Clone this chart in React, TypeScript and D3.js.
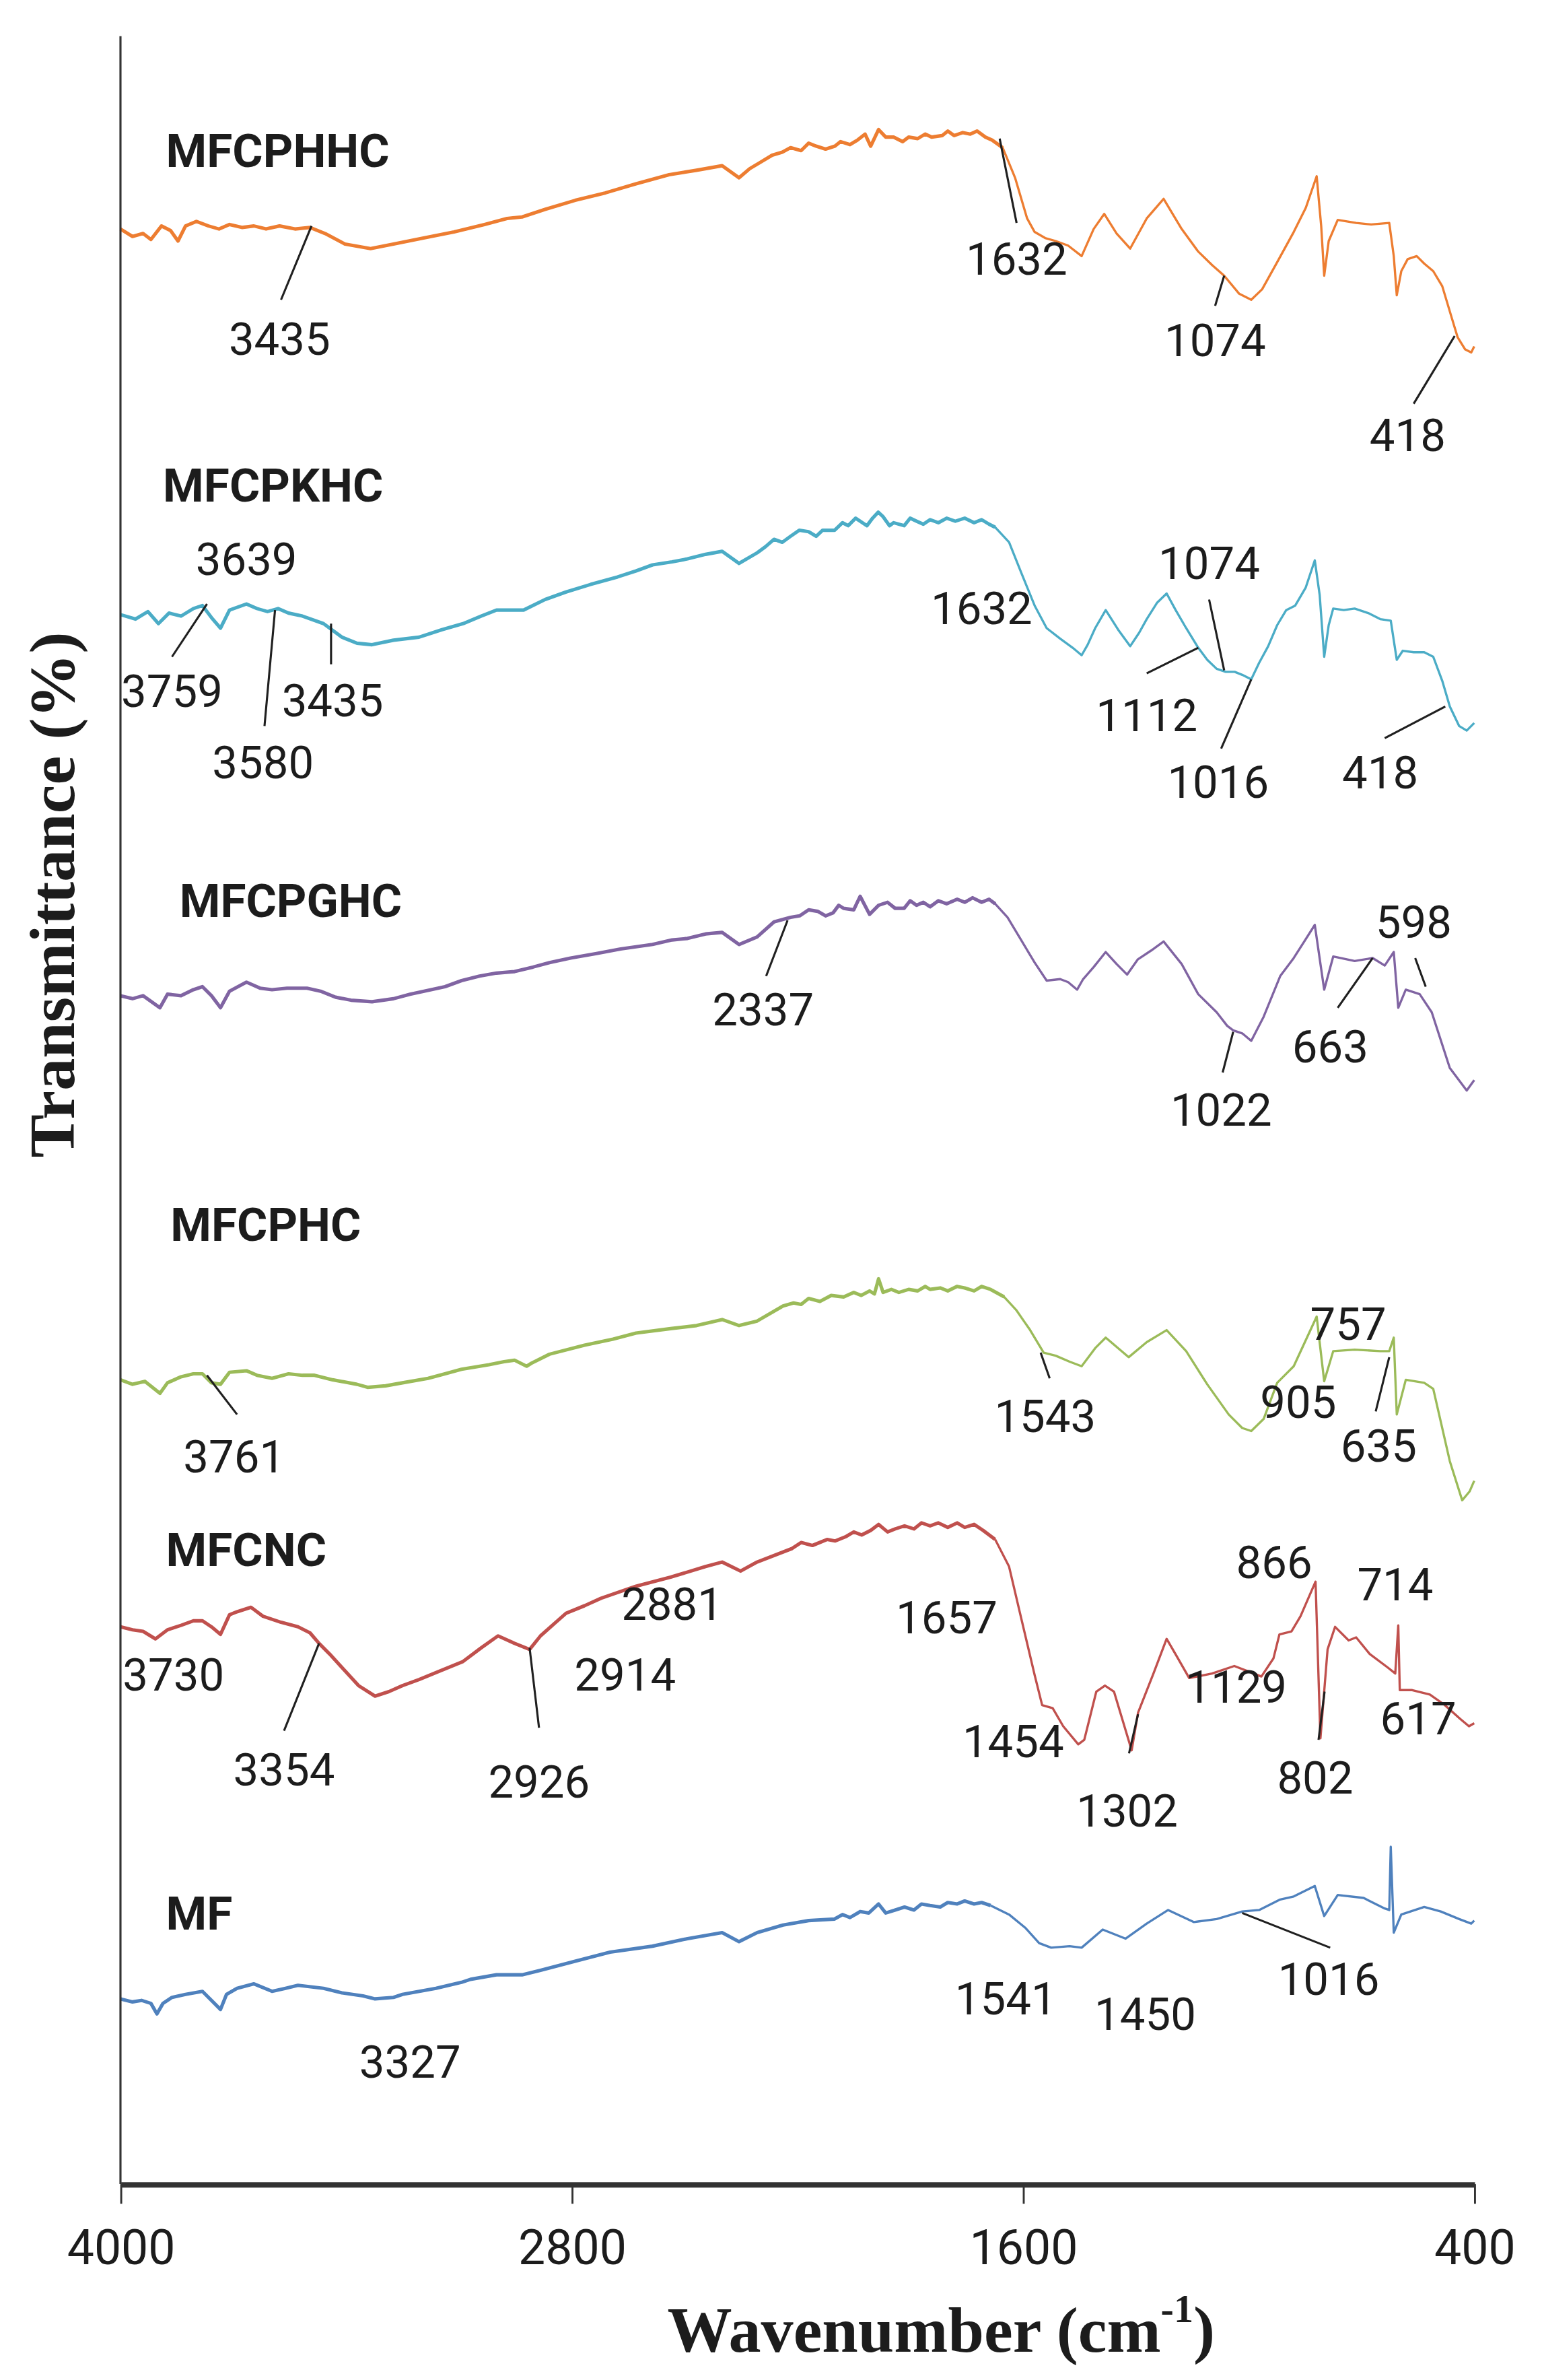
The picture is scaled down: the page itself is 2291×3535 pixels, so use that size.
import { useEffect, useRef } from 'react';
import * as d3 from 'd3';

type Pt = [number, number];

// spectra: [wavenumber cm-1, transmittance (stacked, arbitrary %)]
const MFCPHHC: Pt[] = [
  [4000, 129.8], [3968, 129.3], [3940, 129.5], [3919, 129.1], [3891, 130], [3867, 129.7], [3847, 129],
  [3827, 130], [3798, 130.3], [3766, 130], [3738, 129.8], [3710, 130.1], [3677, 129.9], [3645, 130],
  [3613, 129.8], [3577, 130], [3536, 129.8], [3496, 129.9], [3456, 129.5], [3403, 128.8], [3335, 128.5],
  [3274, 128.8], [3194, 129.2], [3113, 129.6], [3032, 130.1], [2972, 130.5], [2932, 130.6], [2871, 131.1],
  [2791, 131.7], [2710, 132.2], [2629, 132.8], [2541, 133.4], [2468, 133.7], [2400, 134], [2355, 133.2],
  [2327, 133.8], [2300, 134.2], [2267, 134.7], [2240, 134.9], [2218, 135.2], [2190, 135], [2170, 135.5],
  [2150, 135.3], [2125, 135.1], [2100, 135.3], [2085, 135.6], [2060, 135.4], [2040, 135.7], [2020, 136.1],
  [2005, 135.3], [1984, 136.4], [1965, 135.9], [1944, 135.9], [1920, 135.6], [1904, 135.9], [1880, 135.8],
  [1860, 136.1], [1843, 135.9], [1815, 136], [1800, 136.3], [1783, 136], [1760, 136.2], [1740, 136.1],
  [1722, 136.3], [1700, 135.9], [1682, 135.7], [1654, 135.2], [1621, 133.2], [1589, 130.5], [1569, 129.6],
  [1541, 129.2], [1513, 129], [1480, 128.7], [1444, 128], [1412, 129.8], [1384, 130.8], [1351, 129.5],
  [1315, 128.5], [1271, 130.5], [1226, 131.8], [1178, 129.8], [1134, 128.3], [1097, 127.4], [1065, 126.7],
  [1025, 125.5], [993, 125.1], [964, 125.8], [924, 127.6], [880, 129.6], [848, 131.2], [819, 133.3],
  [807, 130], [799, 126.7], [787, 129], [763, 130.4], [714, 130.2], [674, 130.1], [626, 130.2], [614, 128],
  [606, 125.4], [594, 127], [577, 127.8], [553, 128], [533, 127.5], [509, 127], [485, 126], [461, 124],
  [444, 122.6], [424, 121.8], [408, 121.6], [400, 122],
];

const MFCPKHC: Pt[] = [
  [4000, 104.2], [3960, 103.9], [3927, 104.4], [3899, 103.6], [3871, 104.3], [3839, 104.1], [3806, 104.6],
  [3782, 104.8], [3758, 104], [3734, 103.3], [3710, 104.5], [3665, 104.9], [3637, 104.6], [3609, 104.4],
  [3581, 104.6], [3553, 104.3], [3516, 104.1], [3460, 103.6], [3411, 102.7], [3371, 102.3], [3331, 102.2],
  [3274, 102.5], [3206, 102.7], [3145, 103.2], [3089, 103.6], [3041, 104.1], [3000, 104.5], [2928, 104.5],
  [2871, 105.2], [2815, 105.7], [2750, 106.2], [2678, 106.7], [2629, 107.1], [2585, 107.5], [2533, 107.7],
  [2492, 107.9], [2444, 108.2], [2400, 108.4], [2355, 107.6], [2307, 108.3], [2285, 108.7], [2262, 109.2],
  [2240, 109], [2218, 109.4], [2195, 109.8], [2170, 109.7], [2150, 109.4], [2133, 109.8], [2101, 109.8],
  [2080, 110.3], [2065, 110.1], [2045, 110.6], [2033, 110.4], [2015, 110.1], [2000, 110.6], [1985, 111],
  [1972, 110.7], [1955, 110.1], [1944, 110.3], [1916, 110.1], [1900, 110.6], [1883, 110.4], [1865, 110.2],
  [1847, 110.5], [1825, 110.3], [1803, 110.6], [1780, 110.4], [1755, 110.6], [1730, 110.3], [1710, 110.5],
  [1690, 110.2], [1674, 110], [1637, 109], [1605, 107], [1569, 104.8], [1537, 103.3], [1501, 102.6],
  [1468, 102], [1444, 101.5], [1428, 102.2], [1408, 103.3], [1380, 104.5], [1347, 103.2], [1315, 102.1],
  [1291, 103], [1271, 103.9], [1243, 105], [1218, 105.6], [1194, 104.5], [1166, 103.3], [1134, 102],
  [1110, 101.2], [1085, 100.6], [1061, 100.4], [1037, 100.4], [1017, 100.2], [993, 99.9], [972, 101],
  [948, 102.1], [924, 103.5], [900, 104.5], [876, 104.8], [848, 106], [824, 107.8], [811, 105.5],
  [799, 101.4], [787, 103.5], [775, 104.6], [747, 104.5], [718, 104.6], [682, 104.3], [650, 103.9],
  [622, 103.8], [614, 102.5], [606, 101.2], [590, 101.8], [561, 101.7], [533, 101.7], [509, 101.4],
  [485, 99.8], [465, 98.1], [440, 96.8], [420, 96.5], [400, 97],
];

const MFCPGHC: Pt[] = [
  [4000, 78.9], [3968, 78.7], [3940, 78.9], [3895, 78.1], [3875, 79], [3839, 78.9], [3806, 79.3],
  [3782, 79.5], [3758, 78.9], [3734, 78.1], [3710, 79.2], [3665, 79.8], [3629, 79.4], [3597, 79.3],
  [3557, 79.4], [3504, 79.4], [3468, 79.2], [3428, 78.8], [3387, 78.6], [3331, 78.5], [3274, 78.7],
  [3230, 79], [3174, 79.3], [3137, 79.5], [3093, 79.9], [3045, 80.2], [3000, 80.4], [2952, 80.5],
  [2903, 80.8], [2859, 81.1], [2803, 81.4], [2734, 81.7], [2670, 82], [2585, 82.3], [2533, 82.6],
  [2492, 82.7], [2444, 83], [2400, 83.1], [2355, 82.3], [2307, 82.8], [2262, 83.8], [2218, 84.1],
  [2194, 84.2], [2170, 84.6], [2146, 84.5], [2125, 84.2], [2105, 84.4], [2090, 84.9], [2077, 84.7],
  [2050, 84.6], [2033, 85.5], [2008, 84.3], [1984, 84.9], [1960, 85.1], [1940, 84.7], [1916, 84.7],
  [1900, 85.2], [1883, 84.9], [1865, 85.1], [1847, 84.8], [1825, 85.2], [1803, 85], [1775, 85.3],
  [1755, 85.1], [1734, 85.4], [1710, 85.1], [1690, 85.3], [1674, 85], [1641, 84.1], [1605, 82.6],
  [1569, 81.1], [1537, 79.9], [1501, 80], [1480, 79.8], [1456, 79.3], [1440, 80], [1412, 80.8],
  [1380, 81.8], [1351, 81], [1323, 80.3], [1295, 81.3], [1259, 81.9], [1226, 82.5], [1178, 81],
  [1134, 79], [1085, 77.8], [1057, 76.9], [1041, 76.6], [1017, 76.4], [993, 75.9], [960, 77.5],
  [916, 80.2], [880, 81.4], [852, 82.5], [824, 83.6], [799, 79.3], [775, 81.5], [718, 81.2], [670, 81.4],
  [638, 80.9], [614, 81.8], [602, 78.1], [582, 79.3], [545, 79], [513, 77.8], [465, 74.1], [420, 72.6],
  [400, 73.3],
];

const MFCPHC: Pt[] = [
  [4000, 53.4], [3968, 53.1], [3935, 53.3], [3895, 52.5], [3875, 53.2], [3839, 53.6], [3806, 53.8],
  [3782, 53.8], [3758, 53.2], [3734, 53.1], [3710, 53.9], [3665, 54], [3637, 53.7], [3597, 53.5],
  [3553, 53.8], [3516, 53.7], [3484, 53.7], [3436, 53.4], [3371, 53.1], [3343, 52.9], [3295, 53],
  [3250, 53.2], [3182, 53.5], [3137, 53.8], [3093, 54.1], [3020, 54.4], [2980, 54.6], [2952, 54.7],
  [2920, 54.3], [2907, 54.5], [2859, 55.1], [2766, 55.7], [2690, 56.1], [2629, 56.5], [2537, 56.8],
  [2468, 57], [2400, 57.4], [2355, 57], [2307, 57.3], [2238, 58.3], [2210, 58.5], [2190, 58.4],
  [2170, 58.8], [2140, 58.6], [2110, 59], [2077, 58.9], [2050, 59.2], [2030, 59], [2008, 59.3],
  [1995, 59.1], [1984, 60.1], [1972, 59.2], [1950, 59.4], [1930, 59.2], [1904, 59.4], [1880, 59.3],
  [1860, 59.6], [1847, 59.4], [1820, 59.5], [1800, 59.3], [1775, 59.6], [1755, 59.5], [1730, 59.3],
  [1710, 59.6], [1686, 59.4], [1650, 58.9], [1617, 58], [1581, 56.7], [1545, 55.2], [1513, 55],
  [1476, 54.6], [1444, 54.3], [1408, 55.5], [1380, 56.2], [1319, 54.9], [1271, 55.9], [1218, 56.7],
  [1166, 55.3], [1110, 53.1], [1053, 51.1], [1017, 50.2], [993, 50], [960, 50.8], [924, 53.2], [880, 54.3],
  [819, 57.6], [799, 53.3], [775, 55.3], [718, 55.4], [650, 55.3], [626, 55.3], [614, 56.2], [606, 51.1],
  [582, 53.4], [533, 53.2], [509, 52.8], [465, 48], [432, 45.4], [412, 46], [400, 46.7],
];

const MFCNC: Pt[] = [
  [4000, 37], [3968, 36.8], [3940, 36.7], [3907, 36.2], [3875, 36.8], [3839, 37.1], [3806, 37.4],
  [3782, 37.4], [3758, 37], [3734, 36.5], [3710, 37.8], [3690, 38], [3653, 38.3], [3621, 37.7],
  [3573, 37.3], [3528, 37], [3496, 36.6], [3472, 35.9], [3444, 35.2], [3411, 34.3], [3367, 33.1],
  [3323, 32.4], [3286, 32.7], [3250, 33.1], [3206, 33.5], [3157, 34], [3089, 34.7], [3041, 35.6],
  [2996, 36.4], [2952, 35.9], [2912, 35.5], [2883, 36.4], [2847, 37.2], [2815, 37.9], [2766, 38.4],
  [2722, 38.9], [2629, 39.7], [2537, 40.3], [2444, 41], [2400, 41.3], [2351, 40.7], [2307, 41.3],
  [2214, 42.2], [2190, 42.6], [2160, 42.4], [2121, 42.8], [2100, 42.7], [2070, 43], [2050, 43.3],
  [2029, 43.1], [2005, 43.4], [1984, 43.8], [1960, 43.3], [1940, 43.5], [1915, 43.7], [1890, 43.5],
  [1870, 43.9], [1847, 43.7], [1825, 43.9], [1800, 43.6], [1775, 43.9], [1755, 43.6], [1730, 43.8],
  [1706, 43.4], [1674, 42.8], [1637, 41], [1605, 37.6], [1569, 33.8], [1549, 31.8], [1521, 31.6],
  [1493, 30.4], [1453, 29.2], [1437, 29.5], [1405, 32.7], [1382, 33.1], [1358, 32.7], [1311, 28.8],
  [1294, 31.3], [1253, 33.9], [1218, 36.2], [1190, 35], [1158, 33.6], [1097, 33.9], [1038, 34.4],
  [997, 34], [966, 33.7], [934, 34.9], [918, 36.5], [886, 36.7], [862, 37.7], [822, 40], [809, 29.6],
  [790, 35.5], [770, 37], [734, 36.1], [714, 36.3], [678, 35.2], [630, 34.3], [610, 33.9], [602, 37.1],
  [598, 32.8], [565, 32.8], [518, 32.5], [478, 31.8], [438, 30.9], [414, 30.4], [400, 30.6],
];

const MF: Pt[] = [
  [4000, 12.3], [3968, 12.1], [3944, 12.2], [3919, 12], [3903, 11.3], [3887, 12], [3863, 12.4],
  [3827, 12.6], [3782, 12.8], [3734, 11.6], [3718, 12.6], [3690, 13], [3645, 13.3], [3597, 12.8],
  [3561, 13], [3528, 13.2], [3460, 13], [3411, 12.7], [3355, 12.5], [3323, 12.3], [3274, 12.4],
  [3250, 12.6], [3161, 13], [3093, 13.4], [3069, 13.6], [3000, 13.9], [2932, 13.9], [2883, 14.2],
  [2791, 14.8], [2698, 15.4], [2585, 15.8], [2492, 16.3], [2400, 16.7], [2355, 16.1], [2307, 16.7],
  [2238, 17.2], [2170, 17.5], [2101, 17.6], [2080, 17.9], [2060, 17.7], [2033, 18.1], [2010, 18],
  [1984, 18.6], [1965, 18], [1940, 18.2], [1915, 18.4], [1890, 18.2], [1870, 18.6], [1847, 18.5],
  [1820, 18.4], [1800, 18.7], [1775, 18.6], [1755, 18.8], [1730, 18.6], [1710, 18.7], [1686, 18.5],
  [1637, 17.9], [1593, 17], [1557, 16], [1525, 15.7], [1476, 15.8], [1444, 15.7], [1388, 16.9],
  [1327, 16.3], [1271, 17.3], [1214, 18.2], [1146, 17.4], [1085, 17.6], [1017, 18.1], [972, 18.2],
  [916, 18.9], [880, 19.1], [824, 19.8], [799, 17.8], [763, 19.2], [694, 19], [638, 18.3], [626, 18.2],
  [622, 22.4], [614, 16.7], [594, 17.9], [533, 18.4], [489, 18.1], [440, 17.6], [408, 17.3], [400, 17.5],
];

const SERIES_NAMES = ['MFCPHHC', 'MFCPKHC', 'MFCPGHC', 'MFCPHC', 'MFCNC', 'MF'];
const SERIES_DATA = [MFCPHHC, MFCPKHC, MFCPGHC, MFCPHC, MFCNC, MF];
const SERIES_COLORS = ['#ED7D31', '#4BACC6', '#8064A2', '#9BBB59', '#C0504D', '#4F81BD'];
// where each series name sits: [wavenumber, transmittance]
const NAME_AT: Pt[] = [[3879, 135], [3887, 112.8], [3843, 85.2], [3867, 63.7], [3879, 42.1], [3879, 18]];

const X_TICKS = [4000, 2800, 1600, 400];

// peak labels: [text, wn, T, leader from wn, T, to wn, T]
type Peak = [string, number, number, number?, number?, number?, number?];
const PEAKS: Peak[] = [
  ['3435', 3577, 122.5, 3492, 130, 3573, 125.1],
  ['1632', 1617, 127.8, 1662, 135.8, 1617, 130.2],
  ['1074', 1089, 122.4, 1065, 126.7, 1089, 124.7],
  ['418', 577, 116.1, 452, 122.7, 561, 118.2],

  ['3639', 3665, 107.9],
  ['3759', 3863, 99.1, 3863, 101.4, 3770, 104.9],
  ['3580', 3621, 94.4, 3589, 104.5, 3617, 96.8],
  ['3435', 3436, 98.5, 3440, 103.6, 3440, 100.9],
  ['1632', 1710, 104.6],
  ['1074', 1105, 107.6, 1105, 105.2, 1065, 100.5],
  ['1112', 1271, 97.5, 1271, 100.3, 1134, 102],
  ['1016', 1081, 93.1, 1073, 95.3, 993, 99.9],
  ['418', 650, 93.7, 638, 96, 477, 98.1],

  ['2337', 2291, 78, 2283, 80.2, 2226, 83.9],
  ['1022', 1073, 71.3, 1069, 73.8, 1041, 76.5],
  ['663', 783, 75.5, 763, 78.1, 670, 81.4],
  ['598', 561, 83.8, 557, 81.4, 529, 79.5],

  ['3761', 3698, 48.3, 3770, 53.7, 3690, 51.1],
  ['1543', 1541, 51, 1553, 55.2, 1529, 53.5],
  ['905', 868, 51.9],
  ['757', 735, 57.1],
  ['635', 654, 49, 662, 51.3, 626, 54.9],

  ['3730', 3859, 33.8],
  ['3354', 3565, 27.5, 3472, 35.9, 3565, 30.1],
  ['2926', 2887, 26.7, 2912, 35.6, 2887, 30.3],
  ['2914', 2658, 33.8],
  ['2881', 2533, 38.5],
  ['1657', 1803, 37.6],
  ['1454', 1626, 29.4],
  ['1302', 1323, 24.8, 1318, 28.6, 1294, 31.2],
  ['1129', 1033, 33],
  ['866', 932, 41.3],
  ['714', 610, 39.8],
  ['802', 823, 27, 798, 32.7, 814, 29.5],
  ['617', 549, 30.9],

  ['3327', 3230, 8.1],
  ['1541', 1646, 12.3],
  ['1450', 1275, 11.3],
  ['1016', 787, 13.6, 1017, 18, 783, 15.7],
];

const W = 1024;
const H = 1580;
const SANS = 'Roboto, "Noto Sans", sans-serif';
const SERIF = '"Liberation Serif", "DejaVu Serif", serif';
const INK = '#1c1c1c';

export default function App() {
  const svgRef = useRef<SVGSVGElement>(null);

  useEffect(() => {
    if (!svgRef.current) return;
    const svg = d3.select(svgRef.current);
    svg.selectAll('*').remove();

    const x = d3.scaleLinear().domain([4000, 400]).range([80, 979]);
    const y = d3.scaleLinear().domain([0, 145]).range([1450, 0]);
    const line = d3.line<Pt>().x(d => x(d[0])).y(d => y(d[1]));

    svg.append('rect').attr('width', W).attr('height', H).attr('fill', '#fff');

    // ── Spectra: the noisy high-wavenumber part reads thicker than the fingerprint region
    SERIES_DATA.forEach((data, i) => {
      const parts: [Pt[], number][] = [
        [data.filter(d => d[0] >= 1650), 2.3],
        [data.filter(d => d[0] <= 1690), 1.5],
      ];
      parts.forEach(([pts, w]) => {
        svg.append('path')
          .datum(pts)
          .attr('d', line)
          .attr('fill', 'none')
          .attr('stroke', SERIES_COLORS[i])
          .attr('stroke-width', w)
          .attr('stroke-linejoin', 'round');
      });

      svg.append('text')
        .attr('x', x(NAME_AT[i][0])).attr('y', y(NAME_AT[i][1]))
        .attr('dy', '0.35em')
        .attr('font-family', SANS).attr('font-weight', 700).attr('font-size', 31)
        .attr('fill', INK)
        .text(SERIES_NAMES[i]);
    });

    // ── Peak labels + leader lines ────────────────────
    PEAKS.forEach(([t, wn, v, w1, v1, w2, v2]) => {
      if (w1 !== undefined) {
        svg.append('line')
          .attr('x1', x(w1)).attr('y1', y(v1!))
          .attr('x2', x(w2!)).attr('y2', y(v2!))
          .attr('stroke', '#202020').attr('stroke-width', 1.4);
      }
      svg.append('text')
        .attr('x', x(wn)).attr('y', y(v))
        .attr('dy', '0.35em').attr('text-anchor', 'middle')
        .attr('font-family', SANS).attr('font-size', 30)
        .attr('fill', INK)
        .text(t);
    });

    // ── Axes ──────────────────────────────────────────
    svg.append('line')
      .attr('x1', x(4000)).attr('x2', x(4000))
      .attr('y1', y(142.6)).attr('y2', y(0))
      .attr('stroke', '#333').attr('stroke-width', 1.4);

    const xAxis = svg.append('g')
      .attr('transform', `translate(0, ${y(0)})`)
      .call(d3.axisBottom(x).tickValues(X_TICKS).tickSize(13).tickSizeOuter(0).tickFormat(d3.format('d')));
    xAxis.select('.domain').attr('stroke', '#333').attr('stroke-width', 3.6);
    xAxis.selectAll('.tick line').attr('stroke', '#333').attr('stroke-width', 1.3);
    xAxis.selectAll('.tick text')
      .attr('y', 42).attr('dy', '0.35em')
      .attr('font-family', SANS).attr('font-size', 32).attr('fill', INK);

    const xt = svg.append('text')
      .attr('x', 625).attr('y', 1546)
      .attr('dy', '0.35em').attr('text-anchor', 'middle')
      .attr('font-family', SERIF).attr('font-weight', 700).attr('font-size', 43)
      .attr('fill', INK);
    xt.append('tspan').text('Wavenumber (cm');
    xt.append('tspan').attr('font-size', 26).attr('dy', '-0.75em').text('-1');
    xt.append('tspan').attr('dy', '0.45em').text(')');

    svg.append('text')
      .attr('transform', 'translate(34, 594) rotate(-90)')
      .attr('dy', '0.35em').attr('text-anchor', 'middle')
      .attr('font-family', SERIF).attr('font-weight', 700).attr('font-size', 43)
      .attr('fill', INK)
      .text('Transmittance (%)');
  }, []);

  return (
    <svg
      ref={svgRef}
      width={2291}
      height={3535}
      viewBox={`0 0 ${W} ${H}`}
      style={{ position: 'absolute', left: 0, top: 0, display: 'block' }}
    />
  );
}
